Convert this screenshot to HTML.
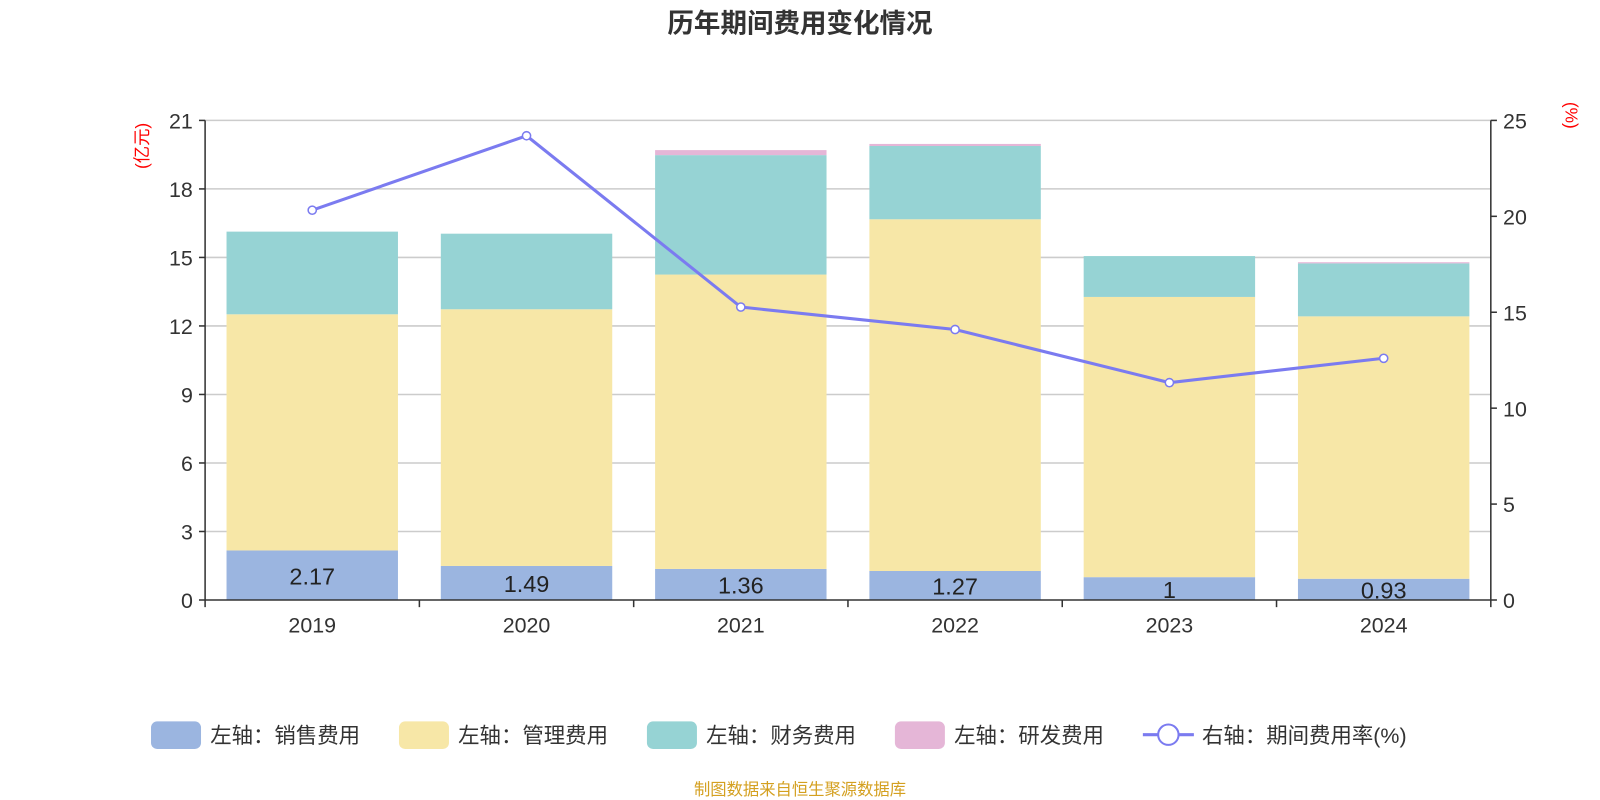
<!DOCTYPE html>
<html><head><meta charset="utf-8"><style>
html,body{margin:0;padding:0;background:#fff;width:1600px;height:800px;overflow:hidden}
svg{font-family:"Liberation Sans","Noto Sans CJK SC",sans-serif}
</style></head><body>
<svg id="chart" width="1600" height="800" viewBox="0 0 1568 784" preserveAspectRatio="none" xmlns="http://www.w3.org/2000/svg">
<text x="784" y="32" text-anchor="middle" font-size="26" font-weight="bold" fill="#333">历年期间费用变化情况</text>
<text transform="translate(145,143) rotate(-90)" text-anchor="middle" font-size="17" fill="#f00">(亿元)</text>
<text transform="translate(1534,113) rotate(90)" text-anchor="middle" font-size="17" fill="#f00">(%)</text>
<g id="grid"></g><g id="bars"></g><g id="axes"></g><g id="line"></g>
<g font-size="21" fill="#333">
<g><rect x="148" y="707" width="49" height="27" rx="6" fill="#9bb5e0"/><text x="206" y="728">左轴：销售费用</text></g>
<g><rect x="391" y="707" width="49" height="27" rx="6" fill="#f7e7a7"/><text x="449" y="728">左轴：管理费用</text></g>
<g><rect x="634" y="707" width="49" height="27" rx="6" fill="#96d3d4"/><text x="692" y="728">左轴：财务费用</text></g>
<g><rect x="877" y="707" width="49" height="27" rx="6" fill="#e5b6d7"/><text x="935" y="728">左轴：研发费用</text></g>
<g><line x1="1120" y1="720" x2="1170" y2="720" stroke="#7b7bf0" stroke-width="3"/><circle cx="1145" cy="720" r="10" fill="#fff" stroke="#7b7bf0" stroke-width="2"/><text x="1178" y="728">右轴：期间费用率(%)</text></g>
</g>
<text x="784" y="779" text-anchor="middle" font-size="16" fill="#d4a020">制图数据来自恒生聚源数据库</text>
</svg>
<script>
const years=["2019","2020","2021","2022","2023","2024"];
const sales=[2.17,1.49,1.36,1.27,1,0.93];
const admin=[10.34,11.24,12.89,15.40,12.27,11.49];
const finance=[3.62,3.31,5.23,3.21,1.79,2.32];
const rd=[0,0,0.22,0.09,0,0.05];
const rate=[20.32,24.2,15.27,14.1,11.33,12.6];
const leftTicks=[0,3,6,9,12,15,18,21];
const rightTicks=[0,5,10,15,20,25];
const NS="http://www.w3.org/2000/svg";
const X0=201,X1=1461,Y0=588,Y1=118;
const yL=v=>Y0-(v/21)*(Y0-Y1);
const yR=v=>Y0-(v/25)*(Y0-Y1);
const band=(X1-X0)/years.length;
const xC=i=>X0+band*(i+0.5);
function mk(tag,attrs,parent){const e=document.createElementNS(NS,tag);for(const k in attrs)e.setAttribute(k,attrs[k]);parent.appendChild(e);return e;}
const grid=document.getElementById('grid'),bars=document.getElementById('bars'),axes=document.getElementById('axes'),line=document.getElementById('line');
leftTicks.forEach(t=>{
 if(t>0){const g=mk('line',{x1:X0,x2:X1,y1:yL(t),y2:yL(t),stroke:'#ccc','stroke-width':1.5},grid);
 
 }
 mk('line',{x1:X0-6,x2:X0,y1:yL(t),y2:yL(t),stroke:'#333','stroke-width':1.5},axes);
 const tx=mk('text',{x:X0-12,y:yL(t)+8,'text-anchor':'end','font-size':21,fill:'#333'},axes);tx.textContent=t;
 
 
});
rightTicks.forEach(t=>{
 mk('line',{x1:X1,x2:X1+6,y1:yR(t),y2:yR(t),stroke:'#333','stroke-width':1.5},axes);
 const tx=mk('text',{x:X1+12,y:yR(t)+8,'font-size':21,fill:'#333'},axes);tx.textContent=t;
 
 
});
mk('line',{x1:X0,x2:X0,y1:Y1,y2:Y0,stroke:'#333','stroke-width':1.5},axes);
mk('line',{x1:X1,x2:X1,y1:Y1,y2:Y0,stroke:'#333','stroke-width':1.5},axes);
mk('line',{x1:X0,x2:X1,y1:Y0,y2:Y0,stroke:'#333','stroke-width':1.5},axes);
for(let i=0;i<=years.length;i++)mk('line',{x1:X0+band*i,x2:X0+band*i,y1:Y0,y2:Y0+7,stroke:'#333','stroke-width':1.5},axes);
const series=[[sales,'#9bb5e0','sales'],[admin,'#f7e7a7','admin'],[finance,'#96d3d4','finance'],[rd,'#e5b6d7','rd']];
const bw=band*0.8;
years.forEach((y,i)=>{
 let base=0;
 series.forEach(([arr,col,nm])=>{
  const v=arr[i];const r=mk('rect',{x:xC(i)-bw/2,y:yL(base+v),width:bw,height:yL(base)-yL(base+v),fill:col},bars);
  
  
  base+=v;
 });
 const lb=mk('text',{x:xC(i),y:yL(sales[i]/2)+9,'text-anchor':'middle','font-size':23,fill:'#222'},bars);lb.textContent=sales[i];
 
 
 const xl=mk('text',{x:xC(i),y:Y0+32,'text-anchor':'middle','font-size':21,fill:'#333'},axes);xl.textContent=y;
 
 
});
const pl=mk('polyline',{points:rate.map((v,i)=>xC(i)+','+yR(v)).join(' '),fill:'none',stroke:'#7b7bf0','stroke-width':3},line);


rate.forEach((v,i)=>{const c=mk('circle',{cx:xC(i),cy:yR(v),r:4,fill:'#fff',stroke:'#7b7bf0','stroke-width':1.5},line);
 
 });
</script>
</body></html>
